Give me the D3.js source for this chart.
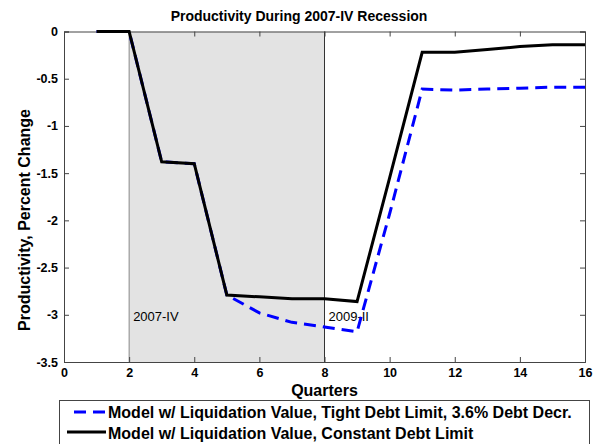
<!DOCTYPE html>
<html><head><meta charset="utf-8">
<script src="https://cdn.jsdelivr.net/npm/d3@7"></script>
<style>body{margin:0;background:#fff}svg{display:block}</style>
</head><body>
<script>
const quarters = [1,2,3,4,5,6,7,8,9,10,11,12,13,14,15,16];
const tightDebt = [0,0,-1.38,-1.40,-2.79,-2.98,-3.08,-3.13,-3.18,-1.93,-0.61,-0.62,-0.61,-0.60,-0.59,-0.59];
const constDebt = [0,0,-1.38,-1.40,-2.79,-2.81,-2.83,-2.83,-2.86,-1.55,-0.22,-0.22,-0.19,-0.16,-0.14,-0.14];
const xTicks = [0,2,4,6,8,10,12,14,16];
const yTicks = [0,-0.5,-1,-1.5,-2,-2.5,-3,-3.5];
const recession = [2,8];
const recessionLabels = ["2007-IV","2009-II"];
const seriesNames = ["Model w/ Liquidation Value, Tight Debt Limit, 3.6% Debt Decr.","Model w/ Liquidation Value, Constant Debt Limit"];

const FF="'Liberation Sans', Arial, sans-serif";
const W=599,H=444;
const m={l:64,r:585,t:31.5,b:362};
const svg=d3.select("body").append("svg").attr("width",W).attr("height",H);
const x=d3.scaleLinear().domain([0,16]).range([m.l,m.r]);
const y=d3.scaleLinear().domain([-3.5,0]).range([m.b,m.t]);

// shaded recession
svg.append("rect").attr("x",x(recession[0])).attr("y",m.t).attr("width",x(recession[1])-x(recession[0])).attr("height",m.b-m.t).attr("fill","#e3e3e3");
svg.append("line").attr("x1",x(recession[0])).attr("x2",x(recession[0])).attr("y1",m.t).attr("y2",m.b).attr("stroke","#888").attr("stroke-width",1);
svg.append("line").attr("x1",x(recession[1])).attr("x2",x(recession[1])).attr("y1",m.t).attr("y2",m.b).attr("stroke","#333").attr("stroke-width",1);

// axes
const fmt=d=>String(d);
const ax=svg.append("g").attr("transform",`translate(0,${m.b})`).call(d3.axisBottom(x).tickValues(xTicks).tickSize(-5).tickPadding(6).tickFormat(fmt));
const axT=svg.append("g").attr("transform",`translate(0,${m.t})`).call(d3.axisTop(x).tickValues(xTicks).tickSize(-5).tickFormat(""));
const ay=svg.append("g").attr("transform",`translate(${m.l},0)`).call(d3.axisLeft(y).tickValues(yTicks).tickSize(-5).tickPadding(6).tickFormat(fmt));
const ayR=svg.append("g").attr("transform",`translate(${m.r},0)`).call(d3.axisRight(y).tickValues(yTicks).tickSize(-5).tickFormat(""));
[ax,axT,ay,ayR].forEach(g=>{
  g.select(".domain").attr("stroke","#444");
  g.selectAll(".tick line").attr("stroke","#444");
  g.selectAll("text").attr("font-family",FF).attr("font-size",12.5).attr("font-weight","bold").attr("fill","#000");
});

// recession labels
svg.append("text").attr("x",x(recession[0])+4).attr("y",y(-3.07)).text(recessionLabels[0])
  .attr("font-family",FF).attr("font-size",13).attr("fill","#000");
svg.append("text").attr("x",x(recession[1])+4).attr("y",y(-3.07)).text(recessionLabels[1])
  .attr("font-family",FF).attr("font-size",13).attr("fill","#000");

// lines
const line=d3.line().x((d,i)=>x(quarters[i])).y(d=>y(d));
svg.append("path").attr("d",line(tightDebt)).attr("fill","none").attr("stroke","#0000ff").attr("stroke-width",3).attr("stroke-dasharray","12,7");
svg.append("path").attr("d",line(constDebt)).attr("fill","none").attr("stroke","#000").attr("stroke-width",3);

// titles
svg.append("text").attr("x",299).attr("y",21).attr("text-anchor","middle").text("Productivity During 2007-IV Recession")
  .attr("font-family",FF).attr("font-size",14).attr("font-weight","bold");
svg.append("text").attr("x",(m.l+m.r)/2).attr("y",396).attr("text-anchor","middle").text("Quarters")
  .attr("font-family",FF).attr("font-size",16).attr("font-weight","bold");
svg.append("text").attr("transform",`translate(30,220) rotate(-90)`).attr("text-anchor","middle").text("Productivity, Percent Change")
  .attr("font-family",FF).attr("font-size",16).attr("font-weight","bold");

// legend
const lg=svg.append("g");
lg.append("rect").attr("x",59.5).attr("y",400.5).attr("width",530).attr("height",60).attr("fill","#fff").attr("stroke","#444");
lg.append("line").attr("x1",74).attr("x2",106).attr("y1",412).attr("y2",412).attr("stroke","#0000ff").attr("stroke-width",3).attr("stroke-dasharray","12,7");
lg.append("line").attr("x1",67).attr("x2",106).attr("y1",432).attr("y2",432).attr("stroke","#000").attr("stroke-width",3);
seriesNames.forEach((s,i)=>{
  lg.append("text").attr("x",108).attr("y",417.5+i*21).text(s)
    .attr("font-family",FF).attr("font-size",16).attr("font-weight","bold");
});
</script>
</body></html>
